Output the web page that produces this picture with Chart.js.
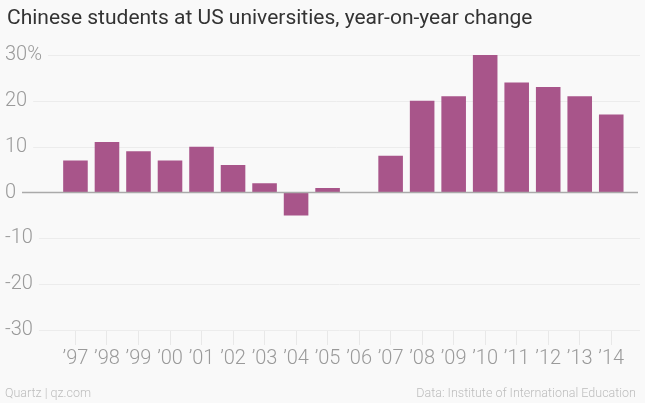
<!DOCTYPE html>
<html>
<head>
<meta charset="utf-8">
<script src="https://cdn.jsdelivr.net/npm/chart.js@4"></script>
<style>
  html, body { margin: 0; padding: 0; background: #f9f9f9; }
  #wrap { position: relative; width: 645px; height: 403px; overflow: hidden; background: #f9f9f9; }
  #chart { position: absolute; left: 0; top: 0; }
  .title { position: absolute; left: 7px; top: 5px; font-family: Roboto, 'Noto Sans', sans-serif; font-size: 21px; color: #333; white-space: nowrap; }
  .foot { position: absolute; top: 385px; font-family: Roboto, 'Noto Sans', sans-serif; font-weight: 300; font-size: 12.5px; color: #bdbdbd; white-space: nowrap; }
</style>
</head>
<body>
<div id="wrap">
  <canvas id="chart" width="645" height="403"></canvas>
  <div class="title">Chinese students at US universities, year-on-year change</div>
  <div class="foot" style="left:5px;">Quartz | qz.com</div>
  <div class="foot" style="right:9px;">Data: Institute of International Education</div>
</div>
<script>
const categories = ["’97","’98","’99","’00","’01","’02","’03","’04","’05","’06","’07","’08","’09","’10","’11","’12","’13","’14"];
const changePct = [7, 11, 9, 7, 10, 6, 2, -5, 1, 0, 8, 20, 21, 30, 24, 23, 21, 17];
const yTicks = [-30, -20, -10, 0, 10, 20, 30];
const yTickLabels = ["-30", "-20", "-10", "0", "10", "20", "30%"];

const TICK_FONT = { family: "Roboto, 'Noto Sans', sans-serif", size: 20, weight: '300' };

const gridPlugin = {
  id: 'qzGrid',
  beforeDatasetsDraw(chart) {
    const { ctx } = chart;
    const y = chart.scales.y;
    ctx.save();
    ctx.font = `${TICK_FONT.weight} ${TICK_FONT.size}px ${TICK_FONT.family}`;
    ctx.strokeStyle = '#ececec';
    ctx.lineWidth = 1;
    yTicks.forEach((v, i) => {
      if (v === 0) return;
      const py = Math.round(y.getPixelForValue(v)) + 0.5;
      const w = ctx.measureText(yTickLabels[i]).width;
      ctx.beginPath();
      ctx.moveTo(5 + w + 6, py);
      ctx.lineTo(640, py);
      ctx.stroke();
    });
    ctx.restore();
  },
  afterDatasetsDraw(chart) {
    const { ctx } = chart;
    const y = chart.scales.y;
    const py = y.getPixelForValue(0);
    ctx.save();
    ctx.strokeStyle = '#aaaaaa';
    ctx.lineWidth = 1.5;
    ctx.beginPath();
    ctx.moveTo(22, py);
    ctx.lineTo(638, py);
    ctx.stroke();
    ctx.restore();
  }
};

new Chart(document.getElementById('chart'), {
  type: 'bar',
  data: {
    labels: categories,
    datasets: [{
      data: changePct,
      backgroundColor: '#a8558a',
      borderWidth: 0,
      barPercentage: 0.78,
      categoryPercentage: 1.0
    }]
  },
  options: {
    responsive: false,
    animation: false,
    devicePixelRatio: 1,
    layout: { padding: { top: 55, left: 5, right: 18, bottom: 0 } },
    plugins: { legend: { display: false }, tooltip: { enabled: false }, title: { display: false } },
    scales: {
      x: {
        offset: true,
        grid: { offset: false, drawOnChartArea: false, drawTicks: true, tickLength: 15, color: '#e8e8e8' },
        border: { display: false },
        ticks: { color: '#9a9a9a', font: { family: TICK_FONT.family, size: 20, weight: '300' }, padding: 2, maxRotation: 0, autoSkip: false },
        afterFit(scale) { scale.height = 73; }
      },
      y: {
        min: -30, max: 30,
        afterBuildTicks(scale) { scale.ticks = yTicks.map(v => ({ value: v })); },
        grid: { display: false },
        border: { display: false },
        ticks: {
          color: '#9a9a9a',
          font: TICK_FONT,
          crossAlign: 'far',
          padding: 0,
          callback(v) { const i = yTicks.indexOf(v); return i >= 0 ? yTickLabels[i] : ''; }
        },
        afterFit(scale) { scale.width = 54.7; }
      }
    }
  },
  plugins: [gridPlugin]
});
</script>
</body>
</html>
